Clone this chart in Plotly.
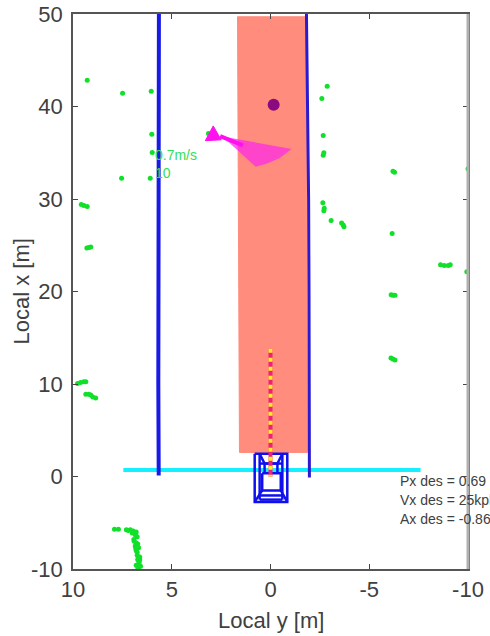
import plotly.graph_objects as go

# Axis ticks
x_ticks = [10, 5, 0, -5, -10]
x_tick_labels = ["10", "5", "0", "-5", "-10"]
y_ticks = [-10, 0, 10, 20, 30, 40, 50]
y_tick_labels = ["-10", "0", "10", "20", "30", "40", "50"]

# Drivable corridor
corridor_y = [1.67, -1.82, -1.87, 1.57, 1.67]
corridor_x = [49.7, 49.7, 2.6, 2.6, 49.7]

# Lane lines
left_lane_y = [5.65, 5.66, 5.7, 5.7, 5.68, 5.66]
left_lane_x = [50, 40, 30, 20, 10, 0.1]
right_lane_y = [-1.82, -1.88, -1.93, -1.95, -1.97, -1.97]
right_lane_x = [50, 40, 30, 20, 10, -0.1]

# Stop/cross line
cross_y = [7.45, -7.6]
cross_x = [0.7, 0.7]

# Radar-type detections
green_y = [9.28, 7.49, 6.04, 6.01, 5.99, 7.54, 6.09, 3.14, 9.58, 9.45, 9.28, 9.2, 9.1, 9.3,
           -2.87, -2.6, -2.67, -2.67, -2.7, -6.28, -6.2, -10.0, -2.65, -2.7, -2.72, -3.07,
           -3.68, -3.6, -3.72, -6.16, -8.61, -8.8, -9.0, -9.1, -9.94, -6.11, -6.2, -6.3,
           -6.1, -6.2, -6.3, 9.77, 9.62, 9.45, 9.35, 9.35, 9.2, 9.1, 9.0, 8.85,
           7.9, 7.7, 7.3, 7.1, 6.95, 6.8, 6.75, 6.9, 6.85, 6.8, 6.75, 6.72, 6.7, 6.68, 6.8, 6.62,
           7.2, 7.0, 6.85, 6.92, 6.8, 6.72, 6.82, 6.68, 6.75, 6.62, 6.7, 6.65, 6.58, 6.72]
green_x = [42.84, 41.44, 41.65, 37.0, 35.03, 32.25, 32.25, 37.08, 29.4, 29.3, 29.2, 24.76, 24.8, 24.7,
           42.2, 40.86, 36.86, 34.74, 35.0, 32.9, 33.0, 33.26, 29.6, 28.72, 29.0, 27.68,
           27.2, 27.4, 27.0, 26.27, 22.89, 22.8, 22.8, 22.9, 22.13, 19.64, 19.6, 19.6,
           12.8, 12.7, 12.6, 10.05, 10.16, 10.25, 10.25, 8.9, 8.9, 8.8, 8.6, 8.5,
           -5.7, -5.7, -5.75, -5.75, -5.9, -6.0, -6.5, -7.0, -7.5, -8.0, -8.5, -9.0, -9.5, -9.95, -9.6, -9.0,
           -5.85, -6.1, -6.3, -6.8, -7.2, -7.3, -7.8, -7.7, -8.2, -8.7, -8.9, -9.3, -9.7, -9.85]

# Target
target_y = [-0.16]
target_x = [40.2]

# Magenta object
tri_y = [2.9, 3.3, 2.5, 2.9]
tri_x = [37.9, 36.3, 36.4, 37.9]
sector_y = [2.55, -1.07, -0.45, 0.2, 0.75, 2.2, 2.55]
sector_x = [36.8, 35.4, 34.4, 33.8, 33.5, 36.3, 36.8]
heading_y = [2.55, 1.4]
heading_x = [36.8, 35.8]

# Ego path
path_y = [0, 0, 0]
path_x = [13.8, 7, 0]

# Ego wireframe
wire_y = [0.8, -0.85, -0.85, 0.8, 0.8, None, 0.55, 0.55, None, -0.6, -0.6, None,
          0.55, 0.3, -0.35, -0.6, None, 0.3, 0.3, None, -0.35, -0.35, None, 0.55, -0.6, None,
          0.42, -0.52, -0.52, 0.42, 0.42, None, 0.55, -0.6, None, 0.55, -0.6, None,
          0.42, 0.8, None, -0.52, -0.85]
wire_x = [2.45, 2.45, -2.75, -2.75, 2.45, None, 2.45, -2.5, None, 2.45, -2.5, None,
          2.45, 1.4, 1.4, 2.45, None, 1.4, 0.35, None, 1.4, 0.35, None, 1.4, 1.4, None,
          0.35, 0.35, -1.5, -1.5, 0.35, None, -2.05, -2.05, None, -2.5, -2.5, None,
          -1.5, -2.75, None, -1.5, -2.75]

# Texts
speed_label = "0.7m/s"
id_label = "10"
info_labels = ["Px des = 0.69", "Vx des = 25kph", "Ax des = -0.86"]
x_title = "Local y [m]"
y_title = "Local x [m]"

FONT = "Liberation Sans"
fig = go.Figure()
fig.add_trace(go.Scatter(x=corridor_y, y=corridor_x, mode="lines", fill="toself",
                         fillcolor="#ff8c7c", line=dict(color="#ff8c7c", width=1)))
fig.add_trace(go.Scatter(x=cross_y, y=cross_x, mode="lines", line=dict(color="#14f0ff", width=4)))
fig.add_trace(go.Scatter(x=left_lane_y, y=left_lane_x, mode="lines", line=dict(color="#1a1ae6", width=4)))
fig.add_trace(go.Scatter(x=right_lane_y, y=right_lane_x, mode="lines", line=dict(color="#2a1ad0", width=3)))
fig.add_trace(go.Scatter(x=wire_y, y=wire_x, mode="lines", line=dict(color="#1010ee", width=2.5)))
fig.add_trace(go.Scatter(x=green_y, y=green_x, mode="markers",
                         marker=dict(color="#10e02a", size=5, line=dict(width=0))))
fig.add_trace(go.Scatter(x=target_y, y=target_x, mode="markers",
                         marker=dict(color="#8a0a80", size=12, line=dict(width=0))))
fig.add_trace(go.Scatter(x=sector_y, y=sector_x, mode="lines", fill="toself",
                         fillcolor="rgba(255,40,235,0.72)", line=dict(width=0)))
fig.add_trace(go.Scatter(x=heading_y, y=heading_x, mode="lines", line=dict(color="#ff10ee", width=4)))
fig.add_trace(go.Scatter(x=tri_y, y=tri_x, mode="lines", fill="toself",
                         fillcolor="#ff10ee", line=dict(color="#ff10ee", width=1)))
fig.add_trace(go.Scatter(x=path_y, y=path_x, mode="lines", line=dict(color="#f0207a", width=4)))
fig.add_trace(go.Scatter(x=path_y, y=path_x, mode="lines",
                         line=dict(color="#ffee22", width=4, dash="4px,5px")))

ann = [
    dict(x=5.95, y=34.8, text=speed_label, xanchor="left", font=dict(color="#35dd55", size=14)),
    dict(x=5.95, y=32.8, text=id_label, xanchor="left", font=dict(color="#35dd55", size=14)),
    dict(x=-6.45, y=-0.5, text=info_labels[0], xanchor="left", font=dict(color="#404040", size=14)),
    dict(x=-6.45, y=-2.5, text=info_labels[1], xanchor="left", font=dict(color="#404040", size=14)),
    dict(x=-6.45, y=-4.6, text=info_labels[2], xanchor="left", font=dict(color="#404040", size=14)),
]
annotations = [dict(a, showarrow=False, xref="x", yref="y", yanchor="middle") for a in ann]
title_font = dict(size=22, color="#404040", family=FONT)
annotations.append(dict(text=x_title, xref="paper", yref="paper", x=0.5, y=0, xanchor="center",
                        yanchor="middle", yshift=-51, showarrow=False, font=title_font))
annotations.append(dict(text=y_title, xref="paper", yref="paper", x=0, y=0.5, xanchor="center",
                        yanchor="middle", xshift=-52, textangle=-90, showarrow=False, font=title_font))

axis_common = dict(showgrid=False, zeroline=False, showline=True, linecolor="#555555", linewidth=1.5,
                   mirror="ticks", ticks="inside", ticklen=5, tickcolor="#444444", tickwidth=1,
                   automargin=False,
                   tickfont=dict(size=22, color="#404040", family=FONT))
fig.update_layout(
    width=490, height=636, showlegend=False,
    margin=dict(l=73, r=22, t=14, b=67),
    paper_bgcolor="white", plot_bgcolor="white",
    font=dict(family=FONT),
    annotations=annotations,
    shapes=[dict(type="line", xref="paper", yref="paper", x0=1, x1=1, y0=0, y1=1,
                 line=dict(color="#b0b0b0", width=3), layer="above")],
)
fig.update_xaxes(range=[10, -10], tickvals=x_ticks, ticktext=x_tick_labels, **axis_common)
fig.update_yaxes(range=[-10, 50], tickvals=y_ticks, ticktext=y_tick_labels,
                 ticklabelstandoff=4, **axis_common)

fig.write_html("out.html", config=dict(displayModeBar=False),
               post_script="document.body.style.margin='0';document.body.style.overflow='hidden';")
